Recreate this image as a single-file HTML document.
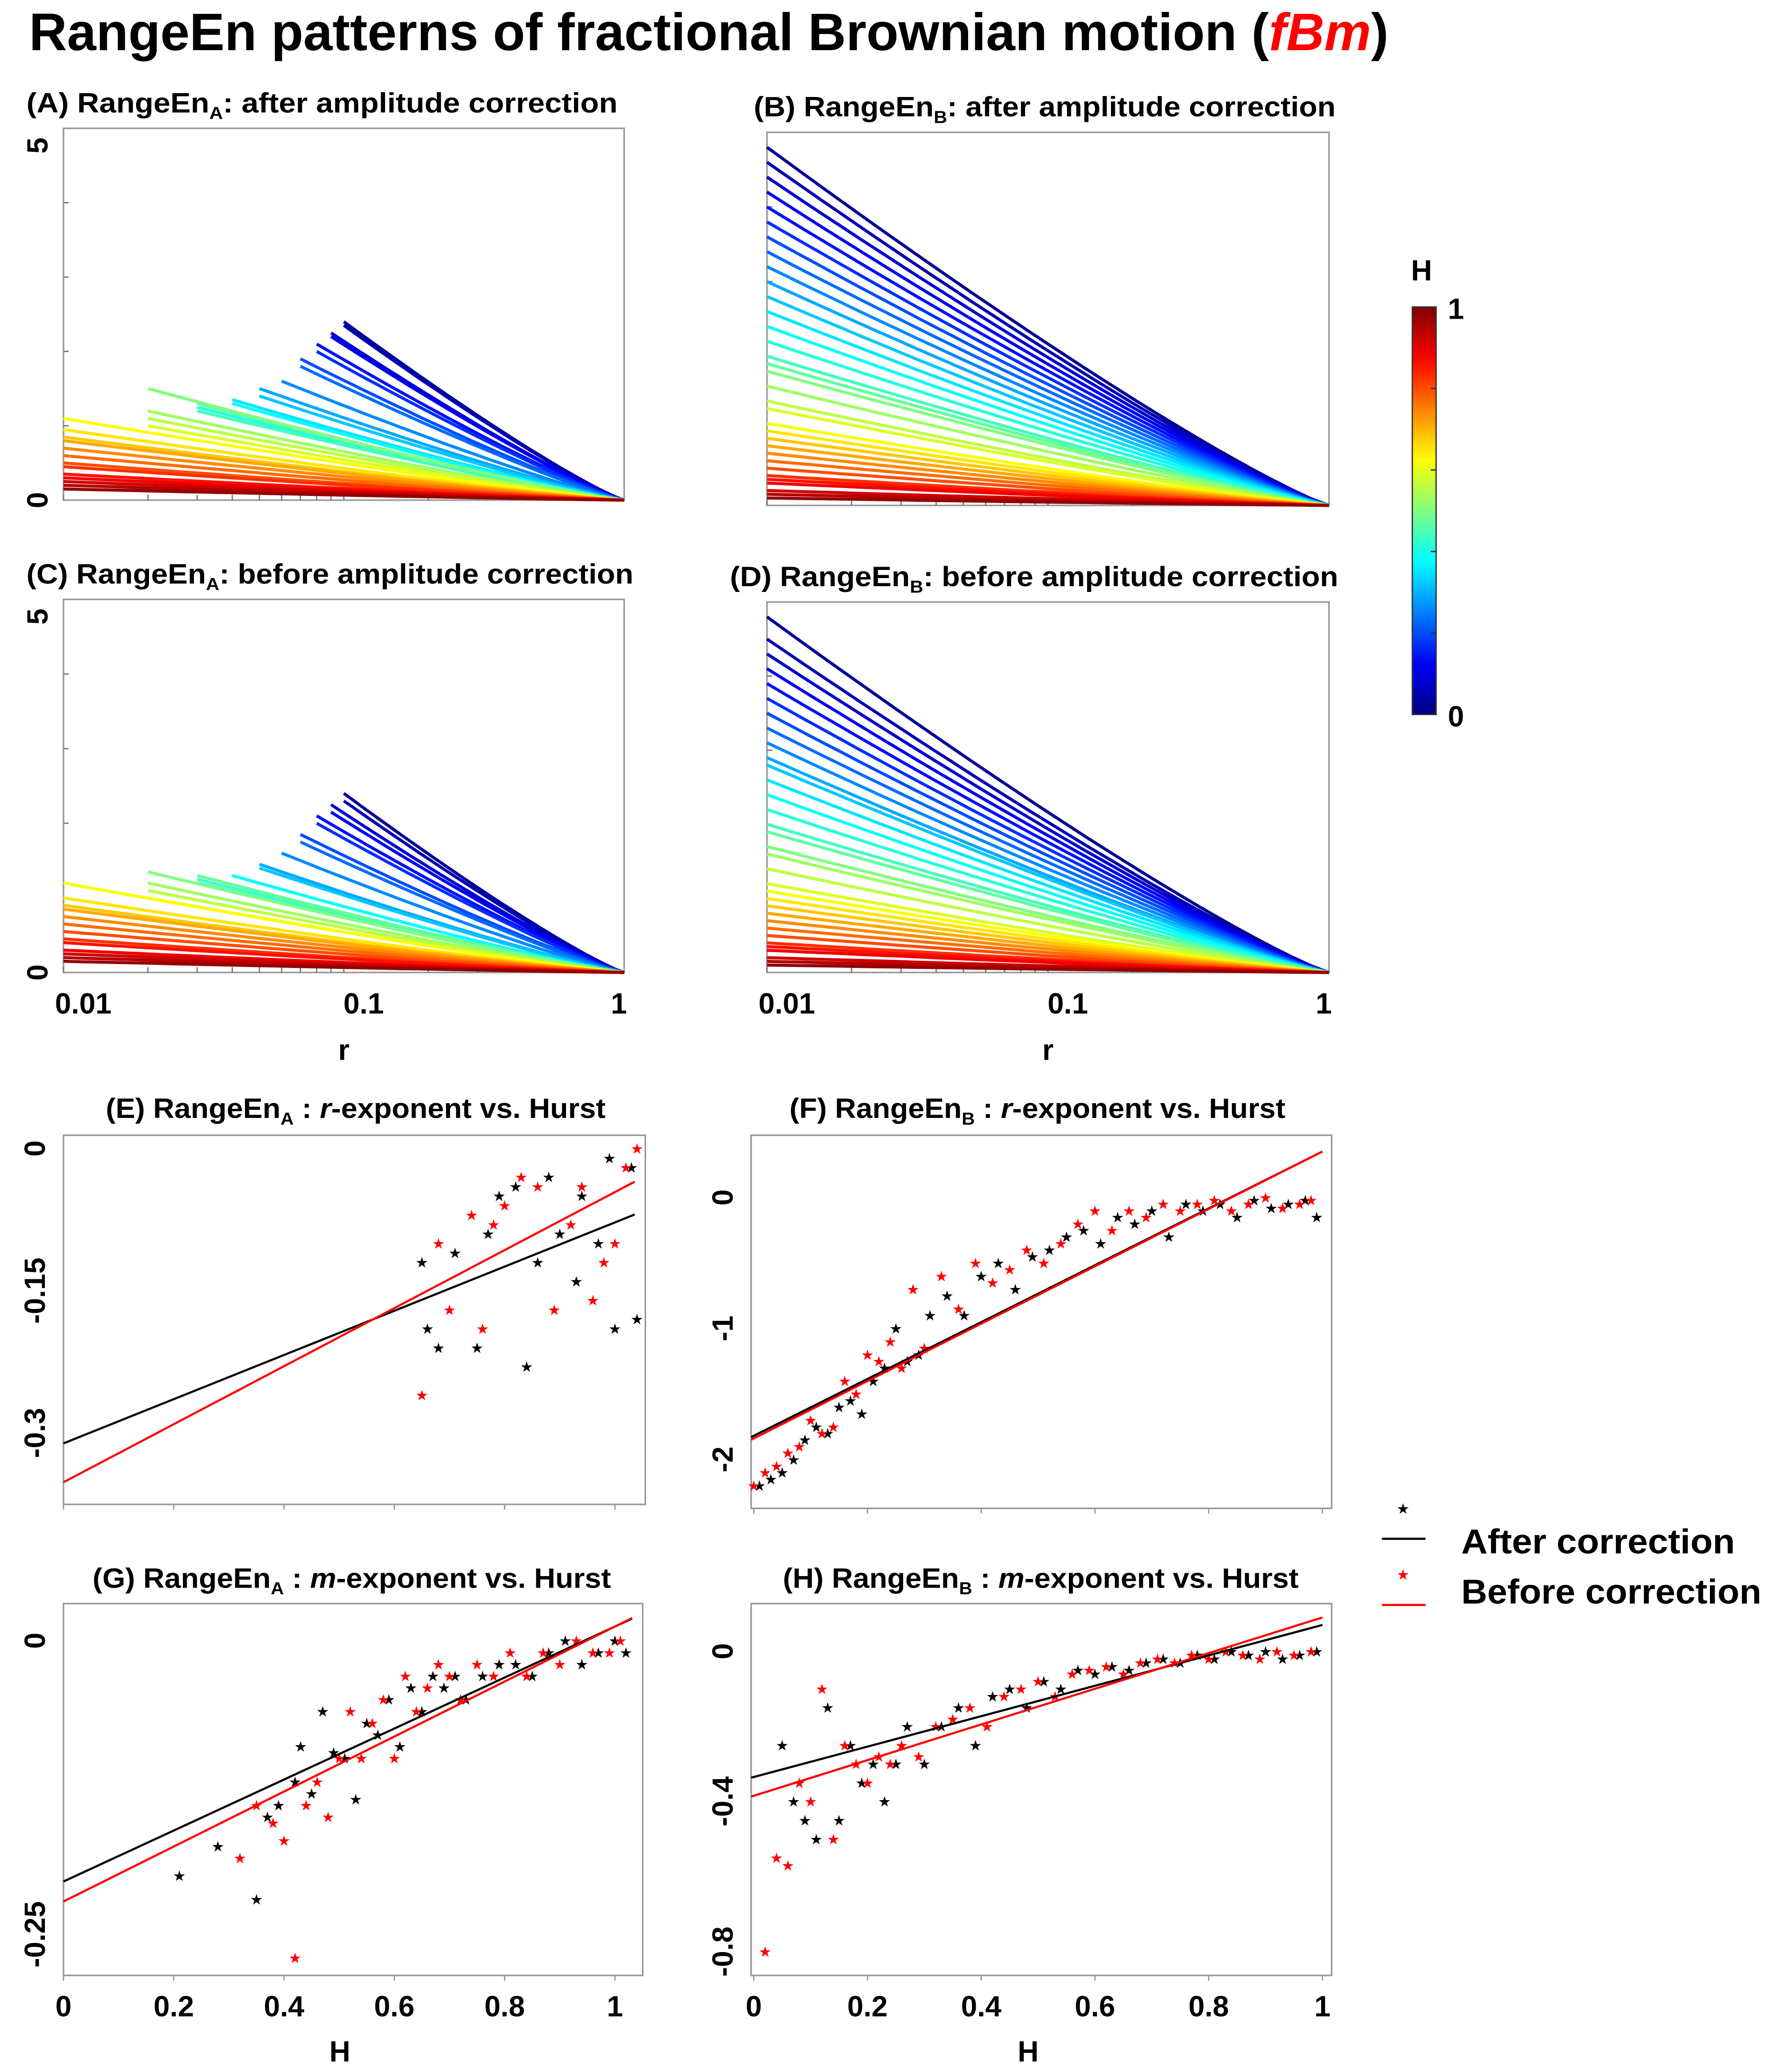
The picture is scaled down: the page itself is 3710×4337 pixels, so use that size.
<!DOCTYPE html>
<html><head><meta charset="utf-8"><style>
html,body{margin:0;padding:0;background:#fff;}
svg{display:block;font-family:"Liberation Sans","DejaVu Sans",sans-serif;}
</style></head><body>
<svg id="fig" width="3710" height="4337" viewBox="0 0 1340 1566" preserveAspectRatio="none" xmlns="http://www.w3.org/2000/svg">
<defs>
<linearGradient id="jet" x1="0" y1="1" x2="0" y2="0">
<stop offset="0" stop-color="#00007f"/><stop offset="0.125" stop-color="#0000ff"/><stop offset="0.375" stop-color="#00ffff"/><stop offset="0.625" stop-color="#ffff00"/><stop offset="0.875" stop-color="#ff0000"/><stop offset="1" stop-color="#7f0000"/>
</linearGradient>
</defs>
<text x="22" y="38" font-size="40" font-weight="bold" textLength="1028" lengthAdjust="spacingAndGlyphs">RangeEn patterns of fractional Brownian motion (<tspan fill="#ff0000" font-style="italic">fBm</tspan>)</text>
<g id="g"></g>
</svg>
<script>
// ---- data ----
const hVals = [0.02,0.05,0.08,0.11,0.14,0.17,0.2,0.23,0.26,0.29,0.32,0.35,0.38,0.41,0.44,0.47,0.5,0.53,0.56,0.59,0.62,0.65,0.68,0.71,0.74,0.77,0.8,0.83,0.86,0.89,0.92,0.95,0.98];
const startR_A = [0.1,0.1,0.09,0.09,0.08,0.08,0.07,0.07,0.06,0.05,0.05,0.04,0.04,0.03,0.03,0.03,0.02,0.02,0.02,0.02,0.01,0.01,0.01,0.01,0.01,0.01,0.01,0.01,0.01,0.01,0.01,0.01,0.01];
const startVal_A = [2.4,2.35,2.25,2.2,2.1,2.0,1.9,1.8,1.6,1.5,1.4,1.35,1.3,1.25,1.2,1.3,1.5,1.2,1.1,1.0,1.1,0.95,0.85,0.8,0.7,0.6,0.5,0.45,0.35,0.3,0.25,0.2,0.15];
const startR_C = [0.1,0.1,0.09,0.09,0.08,0.08,0.07,0.07,0.06,0.05,0.05,0.04,0.04,0.03,0.03,0.03,0.02,0.02,0.02,0.02,0.01,0.01,0.01,0.01,0.01,0.01,0.01,0.01,0.01,0.01,0.01,0.01,0.01];
const startVal_C = [2.4,2.3,2.25,2.15,2.1,2.0,1.85,1.75,1.6,1.45,1.4,1.3,1.3,1.2,1.25,1.3,1.35,1.2,1.1,1.0,1.2,1.0,0.9,0.85,0.75,0.65,0.55,0.45,0.4,0.3,0.25,0.2,0.15];
const startVal_B = [4.8,4.6,4.4,4.2,4.0,3.8,3.6,3.4,3.2,3.0,2.8,2.6,2.4,2.2,2.0,1.9,1.8,1.6,1.4,1.3,1.1,1.0,0.9,0.8,0.7,0.6,0.5,0.4,0.35,0.3,0.2,0.15,0.1];
const startVal_D = [4.8,4.5,4.3,4.1,3.9,3.7,3.5,3.3,3.1,2.9,2.8,2.6,2.4,2.2,2.0,1.9,1.7,1.6,1.4,1.2,1.1,1.0,0.9,0.8,0.7,0.6,0.5,0.4,0.35,0.3,0.2,0.15,0.1];

const E_bH=[0.65,0.66,0.68,0.71,0.75,0.77,0.79,0.82,0.84,0.86,0.88,0.90,0.93,0.94,0.97,0.99,1.0,1.03,1.04];
const E_bV=[-0.12,-0.19,-0.21,-0.11,-0.21,-0.09,-0.05,-0.04,-0.23,-0.12,-0.03,-0.09,-0.14,-0.05,-0.10,-0.01,-0.19,-0.02,-0.18];
const E_rH=[0.65,0.68,0.70,0.74,0.76,0.78,0.80,0.83,0.86,0.89,0.92,0.94,0.96,0.98,1.0,1.02,1.04];
const E_rV=[-0.26,-0.10,-0.17,-0.07,-0.19,-0.08,-0.06,-0.03,-0.04,-0.17,-0.08,-0.04,-0.16,-0.12,-0.10,-0.02,0.0];
const E_fitB=[-0.311,0.233], E_fitR=[-0.352,0.306];

const F_bH=[0.01,0.03,0.05,0.07,0.09,0.11,0.13,0.15,0.17,0.19,0.21,0.23,0.25,0.27,0.29,0.31,0.34,0.37,0.40,0.43,0.46,0.49,0.52,0.55,0.58,0.61,0.64,0.67,0.70,0.73,0.76,0.79,0.82,0.85,0.88,0.91,0.94,0.97,0.99];
const F_bV=[-2.2,-2.15,-2.1,-2.0,-1.85,-1.75,-1.8,-1.6,-1.55,-1.65,-1.4,-1.3,-1.0,-1.25,-1.2,-0.9,-0.75,-0.9,-0.6,-0.5,-0.7,-0.45,-0.4,-0.3,-0.25,-0.35,-0.15,-0.2,-0.1,-0.3,-0.05,-0.1,-0.05,-0.15,-0.02,-0.08,-0.05,-0.02,-0.15];
const F_rH=[0.0,0.02,0.04,0.06,0.08,0.10,0.12,0.14,0.16,0.18,0.20,0.22,0.24,0.26,0.28,0.30,0.33,0.36,0.39,0.42,0.45,0.48,0.51,0.54,0.57,0.60,0.63,0.66,0.69,0.72,0.75,0.78,0.81,0.84,0.87,0.90,0.93,0.96,0.98];
const F_rV=[-2.2,-2.1,-2.05,-1.95,-1.9,-1.7,-1.8,-1.75,-1.4,-1.5,-1.2,-1.25,-1.1,-1.3,-0.7,-1.15,-0.6,-0.85,-0.5,-0.65,-0.55,-0.4,-0.5,-0.35,-0.2,-0.1,-0.25,-0.1,-0.15,-0.05,-0.1,-0.05,-0.02,-0.1,-0.05,0.0,-0.08,-0.05,-0.02];
const F_fitB=[-1.82,2.17], F_fitR=[-1.84,2.19];

const G_bH=[0.21,0.28,0.35,0.37,0.39,0.42,0.43,0.45,0.47,0.49,0.51,0.53,0.55,0.57,0.59,0.61,0.63,0.65,0.67,0.69,0.71,0.73,0.76,0.79,0.82,0.85,0.88,0.91,0.94,0.97,1.0,1.02];
const G_bV=[-0.2,-0.175,-0.22,-0.15,-0.14,-0.12,-0.09,-0.13,-0.06,-0.095,-0.10,-0.135,-0.07,-0.08,-0.05,-0.09,-0.04,-0.06,-0.03,-0.04,-0.03,-0.05,-0.03,-0.02,-0.02,-0.03,-0.01,0.0,-0.02,-0.01,0.0,-0.01];
const G_rH=[0.32,0.35,0.38,0.40,0.42,0.44,0.46,0.48,0.50,0.52,0.54,0.56,0.58,0.60,0.62,0.64,0.66,0.68,0.70,0.72,0.75,0.78,0.81,0.84,0.87,0.90,0.93,0.96,0.99,1.01];
const G_rV=[-0.185,-0.14,-0.155,-0.17,-0.27,-0.14,-0.12,-0.15,-0.10,-0.06,-0.10,-0.07,-0.05,-0.10,-0.03,-0.06,-0.04,-0.02,-0.03,-0.05,-0.02,-0.03,-0.01,-0.03,-0.01,-0.02,0.0,-0.01,-0.01,0.0];
const G_fitB=[-0.205,0.217], G_fitR=[-0.222,0.234];

const H_bH=[0.05,0.07,0.09,0.11,0.13,0.15,0.17,0.19,0.21,0.23,0.25,0.27,0.30,0.33,0.36,0.39,0.42,0.45,0.48,0.51,0.54,0.57,0.60,0.63,0.66,0.69,0.72,0.75,0.78,0.81,0.84,0.87,0.90,0.93,0.96,0.99];
const H_bV=[-0.25,-0.4,-0.45,-0.5,-0.15,-0.45,-0.25,-0.35,-0.3,-0.4,-0.3,-0.2,-0.3,-0.2,-0.15,-0.25,-0.12,-0.1,-0.15,-0.08,-0.1,-0.05,-0.06,-0.04,-0.05,-0.03,-0.02,-0.03,-0.01,-0.02,0.0,-0.01,0.0,-0.02,-0.01,0.0];
const H_rH=[0.02,0.04,0.06,0.08,0.10,0.12,0.14,0.16,0.18,0.20,0.22,0.24,0.26,0.29,0.32,0.35,0.38,0.41,0.44,0.47,0.50,0.53,0.56,0.59,0.62,0.65,0.68,0.71,0.74,0.77,0.80,0.83,0.86,0.89,0.92,0.95,0.98];
const H_rV=[-0.8,-0.55,-0.57,-0.35,-0.4,-0.1,-0.5,-0.25,-0.3,-0.35,-0.28,-0.3,-0.25,-0.28,-0.2,-0.18,-0.15,-0.2,-0.12,-0.1,-0.08,-0.12,-0.06,-0.05,-0.04,-0.06,-0.03,-0.02,-0.03,-0.01,-0.02,0.0,-0.01,-0.02,0.0,-0.01,0.0];
const H_fitB=[-0.335,0.405], H_fitR=[-0.385,0.475];

const rTickLabels=['0.01','0.1','1'];
const hTickLabels=['0','0.2','0.4','0.6','0.8','1'];

// ---- helpers ----
const NS='http://www.w3.org/2000/svg';
const root=document.getElementById('g');
function mk(tag,attrs,parent){const e=document.createElementNS(NS,tag);for(const k in attrs)e.setAttribute(k,attrs[k]);(parent||root).appendChild(e);return e;}
function jet(v){
  const c=(x)=>Math.max(0,Math.min(1,x));
  const r=c(1.5-Math.abs(4*v-3)), g=c(1.5-Math.abs(4*v-2)), b=c(1.5-Math.abs(4*v-1));
  return `rgb(${Math.round(r*255)},${Math.round(g*255)},${Math.round(b*255)})`;
}
function txt(s,x,y,size,name,opts){
  const t=mk('text',Object.assign({x:x,y:y,'font-size':size,'font-weight':'bold','text-anchor':'middle'},opts||{}));
  
  
  t.textContent=s;return t;
}
function panelLabel(x,y,pre,sub,post,w,name){
  const t=mk('text',{x:x,y:y,'font-size':21,'font-weight':'bold',textLength:w,lengthAdjust:'spacingAndGlyphs'});
  
  
  const a=mk('tspan',{},t);a.textContent=pre;
  const b=mk('tspan',{'font-size':13,dy:5},t);b.textContent=sub;
  const c=mk('tspan',{dy:-5},t);c.textContent=post;
  return t;
}
function box(x0,y0,x1,y1,name){
  const r=mk('rect',{x:x0,y:y0,width:x1-x0,height:y1-y0,fill:'none',stroke:'#999','stroke-width':1.2});
  
  
}

// ---- line panels (A-D) ----
function linePanel(P){
  box(P.x0,P.y0,P.x1,P.y1,P.name+'-frame');
  const xs=(r)=>P.x0+(Math.log10(r)+2)/2*(P.x1-P.x0);
  const ys=(v)=>P.y1-v/5*(P.y1-P.yTop);
  for(let k=1;k<5;k++){mk('line',{x1:P.x0,x2:P.x0+4,y1:ys(k),y2:ys(k),stroke:'#777','stroke-width':1});}
  for(let d=-2;d<0;d++)for(let m=1;m<10;m++){const xx=xs(m*Math.pow(10,d));mk('line',{x1:xx,x2:xx,y1:P.y1,y2:P.y1-4,stroke:'#777','stroke-width':1});}
  const g=mk('g',{});
  
  
  hVals.forEach((h,i)=>{
    const r0=P.startR[i], v0=P.startVal[i];
    const l0=Math.log10(r0);
    let d='';
    for(let s=0;s<=30;s++){
      const l=l0+(0-l0)*s/30;
      const v=v0*Math.pow((0-l)/(0-l0),1.15);
      d+=(s?'L':'M')+xs(Math.pow(10,l)).toFixed(1)+','+ys(v).toFixed(1);
    }
    const p=mk('path',{d:d,fill:'none',stroke:jet(h),'stroke-width':2.3},g);
    
    
  });
  if(P.yLabels){
    txt('5',P.x0-20,ys(5)+8,22,P.name+'-y-tick-5',{transform:`rotate(-90 ${P.x0-20} ${ys(5)+13})`,y:ys(5)+21});
    txt('0',P.x0-20,ys(0)+8,22,P.name+'-y-tick-0',{transform:`rotate(-90 ${P.x0-20} ${ys(0)})`});
  }
  if(P.xLabels){
    const pos=[P.x0+15,P.x0+(P.x1-P.x0)*0.5+15,P.x1-4];
    rTickLabels.forEach((s,i)=>txt(s,pos[i],766,22,P.name+'-x-tick-'+s));
    txt('r',(P.x0+P.x1)/2,801,22,P.name+'-x-title');
  }
}
linePanel({name:'panel-a',x0:48,x1:472,y0:97,y1:378,yTop:97,startR:startR_A,startVal:startVal_A,yLabels:true});
linePanel({name:'panel-b',x0:580,x1:1005,y0:100,y1:382,yTop:100,startR:hVals.map(()=>0.01),startVal:startVal_B});
linePanel({name:'panel-c',x0:48,x1:472,y0:453,y1:735,yTop:453,startR:startR_C,startVal:startVal_C,yLabels:true,xLabels:true});
linePanel({name:'panel-d',x0:580,x1:1005,y0:455,y1:735,yTop:455,startR:hVals.map(()=>0.01),startVal:startVal_D,xLabels:true});

panelLabel(20,85,'(A) RangeEn','A',':  after amplitude correction',447,'panel-a-title');
panelLabel(570,88,'(B) RangeEn','B',': after amplitude correction',440,'panel-b-title');
panelLabel(20,441,'(C) RangeEn','A',': before amplitude correction',459,'panel-c-title');
panelLabel(552,443,'(D) RangeEn','B',': before amplitude correction',460,'panel-d-title');

// ---- colorbar ----
const cb=mk('rect',{x:1068,y:232,width:18,height:308,fill:'url(#jet)',stroke:'#333','stroke-width':1});


for(let k=1;k<5;k++){mk('line',{x1:1082,x2:1086,y1:232+k*61.6,y2:232+k*61.6,stroke:'#333'});}
txt('H',1075,212,22,'colorbar-title');
txt('1',1101,241,22,'colorbar-max');
txt('0',1101,549,22,'colorbar-min');

// ---- scatter panels ----
function star(x,y,color,name){
  const t=mk('text',{x:x,y:y+4,'font-size':11,'text-anchor':'middle',fill:color,'font-family':'DejaVu Sans'});
  
  
  t.textContent='★';
}
function scatterPanel(P){
  box(P.x0,P.y0,P.x1,P.y1,P.name+'-frame');
  const xs=(h)=>P.hx0+h*(P.hx1-P.hx0);
  const ys=(v)=>P.vy0+(v-P.v0)/(P.v1-P.v0)*(P.vy1-P.vy0);
  for(let k=0;k<=5;k++){const xx=xs(k*0.2);mk('line',{x1:xx,x2:xx,y1:P.y1,y2:P.y1+4,stroke:'#999'});}
  const fit=(f,c,n)=>{const l=mk('line',{x1:P.x0,y1:ys(f[0]+f[1]*(P.x0-P.hx0)/(P.hx1-P.hx0)),x2:P.fx1,y2:ys(f[0]+f[1]*(P.fx1-P.hx0)/(P.hx1-P.hx0)),stroke:c,'stroke-width':1.6});
    
    };
  P.bH.forEach((h,i)=>star(xs(h),ys(P.bV[i]),'#000',P.name+'-after-point'));
  P.rH.forEach((h,i)=>star(xs(h),ys(P.rV[i]),'#ff0000',P.name+'-before-point'));
  fit(P.fitB,'#000',P.name+'-after-fit');
  fit(P.fitR,'#ff0000',P.name+'-before-fit');
  P.yt.forEach(t=>{const yy=ys(t[0]);txt(t[1],P.x0-22,yy+8,22,P.name+'-y-tick',{transform:`rotate(-90 ${P.x0-22} ${yy})`});});
  if(P.xLabels){
    hTickLabels.forEach((s,i)=>txt(s,xs(i*0.2),1524,22,P.name+'-x-tick-'+s));
    txt('H',(P.x0+P.x1)/2-10,1558,22,P.name+'-x-title');
  }
}
scatterPanel({name:'panel-e',x0:48,x1:488,y0:858,y1:1137,hx0:48,hx1:465,fx1:480,vy0:868,v0:0,vy1:1083,v1:-0.3,bH:E_bH,bV:E_bV,rH:E_rH,rV:E_rV,fitB:E_fitB,fitR:E_fitR,yt:[[0,'0'],[-0.15,'-0.15'],[-0.3,'-0.3']]});
scatterPanel({name:'panel-f',x0:568,x1:1007,y0:858,y1:1140,hx0:570,hx1:1000,fx1:1000,vy0:905,v0:0,vy1:1103,v1:-2,bH:F_bH,bV:F_bV,rH:F_rH,rV:F_rV,fitB:F_fitB,fitR:F_fitR,yt:[[0,'0'],[-1,'-1'],[-2,'-2']]});
scatterPanel({name:'panel-g',x0:48,x1:486,y0:1212,y1:1493,hx0:48,hx1:465,fx1:478,vy0:1240,v0:0,vy1:1462,v1:-0.25,bH:G_bH,bV:G_bV,rH:G_rH,rV:G_rV,fitB:G_fitB,fitR:G_fitR,yt:[[0,'0'],[-0.25,'-0.25']],xLabels:true});
scatterPanel({name:'panel-h',x0:568,x1:1007,y0:1212,y1:1493,hx0:570,hx1:1000,fx1:1000,vy0:1248,v0:0,vy1:1475,v1:-0.8,bH:H_bH,bV:H_bV,rH:H_rH,rV:H_rV,fitB:H_fitB,fitR:H_fitR,yt:[[0,'0'],[-0.4,'-0.4'],[-0.8,'-0.8']],xLabels:true});

function slabel(x,y,pre,sub,mid,it,post,w,name){
  const t=mk('text',{x:x,y:y,'font-size':21,'font-weight':'bold',textLength:w,lengthAdjust:'spacingAndGlyphs'});
  
  
  const a=mk('tspan',{},t);a.textContent=pre;
  const b=mk('tspan',{'font-size':13,dy:5},t);b.textContent=sub;
  const c=mk('tspan',{dy:-5},t);c.textContent=mid;
  const d=mk('tspan',{'font-style':'italic'},t);d.textContent=it;
  const e=mk('tspan',{},t);e.textContent=post;
}
slabel(80,845,'(E) RangeEn','A',' : ','r','-exponent vs. Hurst',378,'panel-e-title');
slabel(597,845,'(F) RangeEn','B',' : ','r','-exponent vs. Hurst',375,'panel-f-title');
slabel(70,1200,'(G) RangeEn','A',' : ','m','-exponent vs. Hurst',392,'panel-g-title');
slabel(592,1200,'(H) RangeEn','B',' : ','m','-exponent vs. Hurst',390,'panel-h-title');

// ---- legend ----
star(1061,1140,'#000','legend-after-marker');
const l1=mk('line',{x1:1045,x2:1078,y1:1163,y2:1163,stroke:'#000','stroke-width':1.6});


txt('After correction',1105,1174,26,'legend-after-label',{'text-anchor':'start',textLength:207,lengthAdjust:'spacingAndGlyphs'});
star(1061,1190,'#ff0000','legend-before-marker');
const l2=mk('line',{x1:1045,x2:1078,y1:1213,y2:1213,stroke:'#ff0000','stroke-width':1.6});


txt('Before correction',1105,1212,26,'legend-before-label',{'text-anchor':'start',textLength:227,lengthAdjust:'spacingAndGlyphs'});
</script>
</body></html>
